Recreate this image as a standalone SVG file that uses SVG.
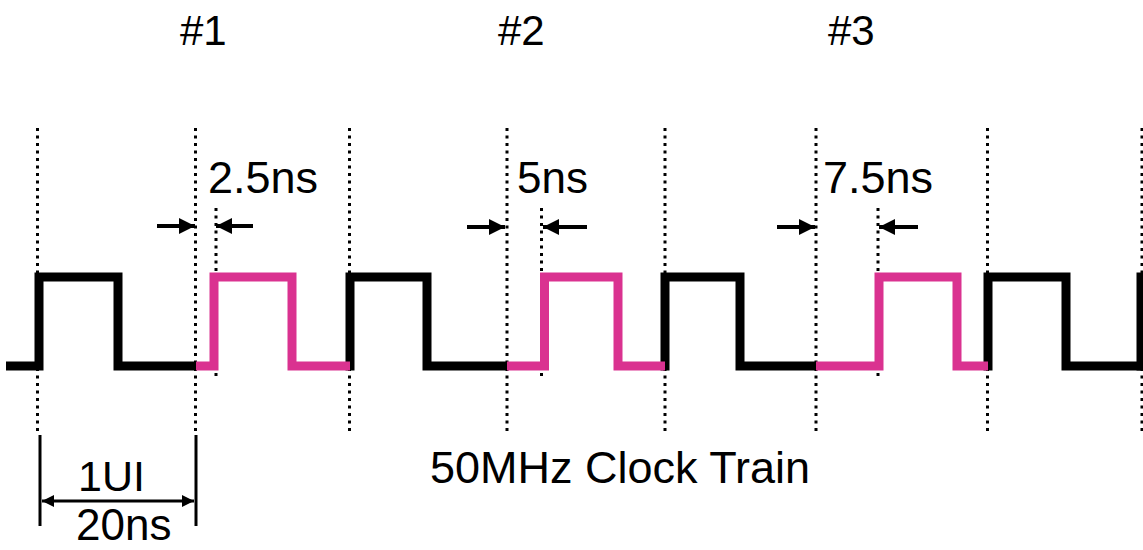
<svg xmlns="http://www.w3.org/2000/svg" width="1143" height="550" viewBox="0 0 1143 550">
<style>
.txt{font-family:"Liberation Sans",Arial,sans-serif;fill:#000}
.dot{stroke:#000;stroke-width:3;stroke-dasharray:3 4.5;fill:none}
.blk{stroke:#000;stroke-width:9;fill:none;stroke-linejoin:miter}
.pnk{stroke:#DA3290;stroke-width:9;fill:none;stroke-linejoin:miter}
.arr{stroke:#000;stroke-width:4;fill:none}
.dim{stroke:#000;stroke-width:3;fill:none}
</style>
<defs>
<marker id="ah" viewBox="0 0 16 16" refX="16" refY="8" markerWidth="16" markerHeight="16" markerUnits="userSpaceOnUse" orient="auto">
<path d="M0,0 L16,8 L0,16 Z" fill="#000"/>
</marker>
<marker id="ahs" viewBox="0 0 12 12" refX="12" refY="6" markerWidth="12" markerHeight="12" markerUnits="userSpaceOnUse" orient="auto-start-reverse">
<path d="M0,0 L12,6 L0,12 Z" fill="#000"/>
</marker>
</defs>
<rect width="1143" height="550" fill="#fff"/>
<g id="gridlines">
<line class="dot" x1="37.5" y1="128" x2="37.5" y2="432"/>
<line class="dot" x1="195.5" y1="128" x2="195.5" y2="432"/>
<line class="dot" x1="349.5" y1="128" x2="349.5" y2="432"/>
<line class="dot" x1="507" y1="128" x2="507" y2="432"/>
<line class="dot" x1="665" y1="128" x2="665" y2="432"/>
<line class="dot" x1="816" y1="128" x2="816" y2="432"/>
<line class="dot" x1="987.5" y1="128" x2="987.5" y2="432"/>
<line class="dot" x1="1142" y1="128" x2="1142" y2="432"/>
<line class="dot" x1="216" y1="208" x2="216" y2="380"/>
<line class="dot" x1="541.5" y1="208" x2="541.5" y2="380"/>
<line class="dot" x1="878" y1="208" x2="878" y2="380"/>
</g>
<g id="waveform">
<path class="blk" d="M6,366 H39 V277 H118 V366 H196"/>
<path class="blk" d="M350,370.5 V277 H427 V366 H507"/>
<path class="blk" d="M665,370.5 V277 H740 V366 H816"/>
<path class="blk" d="M988,370.5 V277 H1066 V366 H1143"/>
<path class="blk" d="M1141,370.5 V277 H1150"/>
<path class="pnk" d="M196,366 H214 V277 H292 V366 H350"/>
<path class="pnk" d="M507,366 H544.5 V277 H618 V366 H665"/>
<path class="pnk" d="M816,366 H879 V277 H957 V366 H988"/>
</g>
<g id="connectors">
<line class="arr" x1="157" y1="226" x2="195" y2="226" marker-end="url(#ah)"/>
<line class="arr" x1="253" y1="226" x2="216" y2="226" marker-end="url(#ah)"/>
<line class="arr" x1="467" y1="227" x2="505" y2="227" marker-end="url(#ah)"/>
<line class="arr" x1="587" y1="227" x2="543" y2="227" marker-end="url(#ah)"/>
<line class="arr" x1="777" y1="227" x2="815" y2="227" marker-end="url(#ah)"/>
<line class="arr" x1="918" y1="227" x2="879" y2="227" marker-end="url(#ah)"/>
<line class="dim" x1="40" y1="435" x2="40" y2="526"/>
<line class="dim" x1="196" y1="435" x2="196" y2="526"/>
<line class="dim" x1="42" y1="501" x2="194" y2="501" marker-start="url(#ahs)" marker-end="url(#ahs)"/>
</g>
<g id="labels">
<text class="txt" x="180" y="45" font-size="42">#1</text>
<text class="txt" x="498" y="45" font-size="42">#2</text>
<text class="txt" x="828" y="45" font-size="42">#3</text>
<text class="txt" x="208" y="193" font-size="45">2.5ns</text>
<text class="txt" x="517" y="193" font-size="44">5ns</text>
<text class="txt" x="823" y="193" font-size="45">7.5ns</text>
<text class="txt" x="430" y="483" font-size="45">50MHz Clock Train</text>
<text class="txt" x="78" y="491" font-size="43">1UI</text>
<text class="txt" x="76" y="540" font-size="44">20ns</text>
</g>
</svg>
